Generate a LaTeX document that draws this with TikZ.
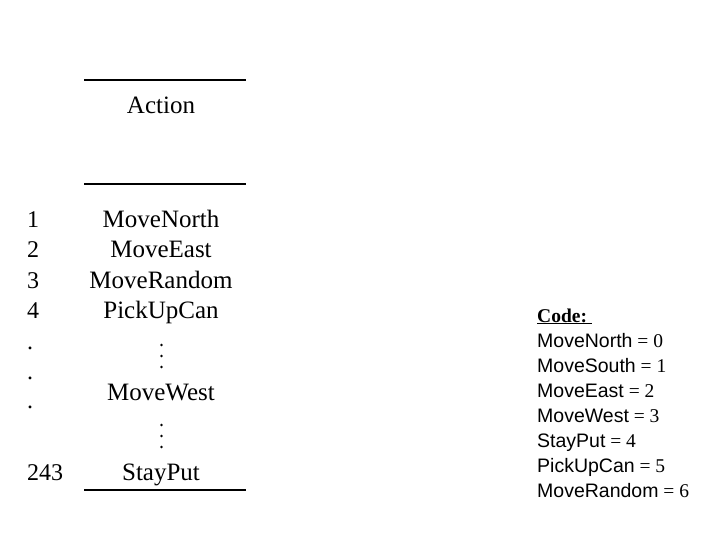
\documentclass[tikz,border=0pt]{standalone}
\usepackage{fontspec}
\setmainfont{Liberation Serif}
\newfontfamily\codefont{Liberation Sans}
\usetikzlibrary{positioning}
\tikzstyle{rule}=[line width=1.2pt]
\tikzstyle{thickrule}=[line width=2.2pt]
\tikzstyle{num}=[anchor=base west,inner sep=0pt,font=\fontsize{24}{24}\selectfont]
\tikzstyle{act}=[anchor=base,inner sep=0pt,font=\fontsize{25}{25}\selectfont]
\tikzstyle{code}=[anchor=base west,inner sep=0pt,font=\fontsize{19.5}{19.5}\selectfont]
\tikzstyle{vdot}=[circle,fill,inner sep=0pt,minimum size=2.6pt]
\newcommand\codeval[2]{{\codefont #1} = #2}
\begin{document}
\begin{tikzpicture}[x=1pt,y=-1pt]
	\useasboundingbox (0,0) rectangle (720,540);
	% table of actions
	\coordinate (top-l) at (84,80);  \coordinate (top-r) at (246,80);
	\coordinate (mid-l) at (84,184); \coordinate (mid-r) at (246,184);
	\coordinate (bot-l) at (84,490); \coordinate (bot-r) at (246,490);
	\draw[rule] (top-l) -- (top-r);
	\draw[thickrule] (mid-l) -- (mid-r);
	\draw[thickrule] (bot-l) -- (bot-r);
	\node[act] (head) at (161,114) {Action};
	\foreach \t/\y [count=\i] in {MoveNorth/227,MoveEast/258,MoveRandom/288,PickUpCan/318}
		\node[act] (a-\i) at (161,\y) {\t};
	\foreach \y [count=\i] in {227,258,288,318}
		\node[num] (n-\i) at (27,\y) {\i};
	\foreach \y [count=\i] in {349,379,408}
		\node[num] (dot-\i) at (27,\y) {.};
	\foreach \y [count=\i] in {345,356,367}
		\node[vdot] (vd-a\i) at (161.5,\y) {};
	\node[act] (a-west) at (161,400) {MoveWest};
	\foreach \y [count=\i] in {425,436,447}
		\node[vdot] (vd-b\i) at (161.5,\y) {};
	\node[act] (a-stay) at (161,480) {StayPut};
	\node[num] (n-last) at (27,480) {243};
	% code list
	\node[code] (code) at (537,322) {\textbf{\underline{Code:\ }}};
	\foreach \t [count=\i from 0] in {MoveNorth,MoveSouth,MoveEast,MoveWest,StayPut,PickUpCan,MoveRandom}
		\node[code] (c-\i) at (537,347+25*\i) {\codeval{\t}{\i}};
\end{tikzpicture}
\end{document}
